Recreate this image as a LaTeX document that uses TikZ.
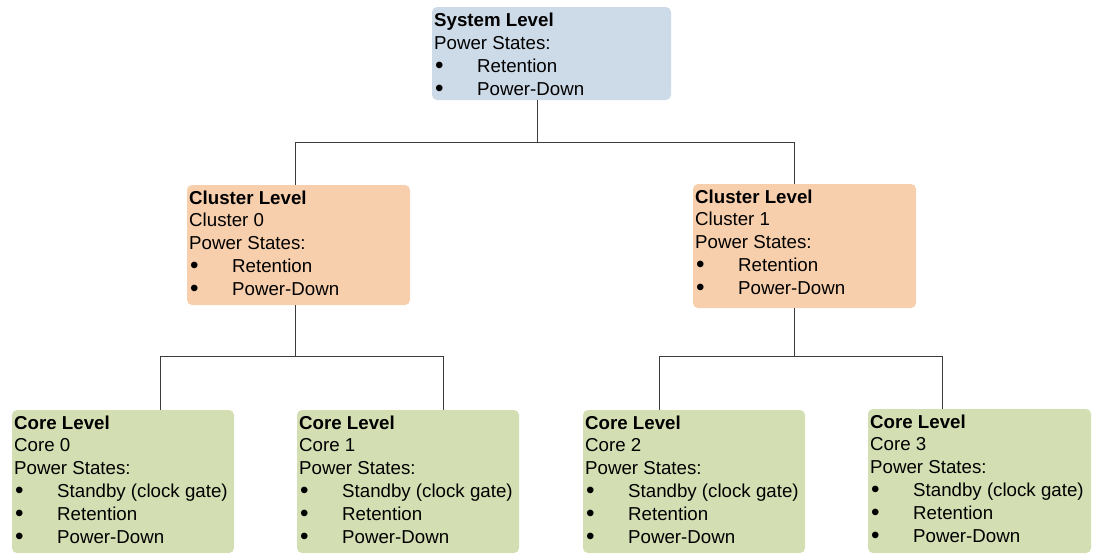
\documentclass[tikz,border=0pt]{standalone}
\usepackage{fontspec}
\setmainfont{Liberation Sans}
\usetikzlibrary{calc}
\definecolor{sysfill}{RGB}{205,218,232}
\definecolor{clfill}{RGB}{248,207,172}
\definecolor{corefill}{RGB}{211,222,178}
\definecolor{linec}{RGB}{60,60,60}
\newcommand{\bitem}[1]{\makebox[43pt][l]{\hspace{1pt}\raisebox{-0.5pt}{\scalebox{1.3}{\textbullet}}}#1}
\begin{document}
\begin{tikzpicture}[x=1pt,y=-1pt,
  box/.style={rounded corners=5pt, inner sep=0pt, outer sep=0pt, anchor=north west, draw=none},
  sysbox/.style={box, fill=sysfill},
  clbox/.style={box, fill=clfill},
  corebox/.style={box, fill=corefill},
  label/.style={anchor=base west, inner sep=0pt, font=\fontsize{18.7}{22.9}\selectfont},
  conn/.style={draw=linec, line width=1pt}]
\useasboundingbox (0,0) rectangle (1099,554);

% boxes
\node[sysbox, minimum width=239pt, minimum height=93pt] (sys) at (432,7) {};
\node[clbox, minimum width=223pt, minimum height=120pt] (c0) at (187,185) {};
\node[clbox, minimum width=223pt, minimum height=124pt] (c1) at (693,184) {};
\node[corebox, minimum width=222pt, minimum height=143pt] (k0) at (12,410) {};
\node[corebox, minimum width=222pt, minimum height=143pt] (k1) at (297,410) {};
\node[corebox, minimum width=222pt, minimum height=143pt] (k2) at (583,410) {};
\node[corebox, minimum width=223pt, minimum height=144pt] (k3) at (868,409) {};

% texts
\node[label] (tsys) at ($(sys.north west)+(2,20)$) {\parbox[t]{230pt}{\textbf{System Level}\\Power States:\\\bitem{Retention}\\\bitem{Power-Down}}};
\node[label] (tc0) at ($(c0.north west)+(2,19)$) {\parbox[t]{215pt}{\textbf{Cluster Level}\\Cluster 0\\Power States:\\\bitem{Retention}\\\bitem{Power-Down}}};
\node[label] (tc1) at ($(c1.north west)+(2,19)$) {\parbox[t]{215pt}{\textbf{Cluster Level}\\Cluster 1\\Power States:\\\bitem{Retention}\\\bitem{Power-Down}}};
\node[label] (tk0) at ($(k0.north west)+(2,19)$) {\parbox[t]{218pt}{\textbf{Core Level}\\Core 0\\Power States:\\\bitem{Standby (clock gate)}\\\bitem{Retention}\\\bitem{Power-Down}}};
\node[label] (tk1) at ($(k1.north west)+(2,19)$) {\parbox[t]{218pt}{\textbf{Core Level}\\Core 1\\Power States:\\\bitem{Standby (clock gate)}\\\bitem{Retention}\\\bitem{Power-Down}}};
\node[label] (tk2) at ($(k2.north west)+(2,19)$) {\parbox[t]{218pt}{\textbf{Core Level}\\Core 2\\Power States:\\\bitem{Standby (clock gate)}\\\bitem{Retention}\\\bitem{Power-Down}}};
\node[label] (tk3) at ($(k3.north west)+(2,19)$) {\parbox[t]{218pt}{\textbf{Core Level}\\Core 3\\Power States:\\\bitem{Standby (clock gate)}\\\bitem{Retention}\\\bitem{Power-Down}}};

% connectors
\draw[conn] ($(sys.south west)+(105,0)$) -- ++(0,42) -| ($(c0.north west)+(108,0)$);
\draw[conn] ($(sys.south west)+(105,0)$) -- ++(0,42) -| ($(c1.north west)+(101,0)$);
\draw[conn] ($(c0.south west)+(108,0)$) -- ++(0,51) -| ($(k0.north west)+(148,0)$);
\draw[conn] ($(c0.south west)+(108,0)$) -- ++(0,51) -| ($(k1.north west)+(146,0)$);
\draw[conn] ($(c1.south west)+(101,0)$) -- ++(0,48) -| ($(k2.north west)+(76,0)$);
\draw[conn] ($(c1.south west)+(101,0)$) -- ++(0,48) -| ($(k3.north west)+(74,0)$);
\end{tikzpicture}
\end{document}
